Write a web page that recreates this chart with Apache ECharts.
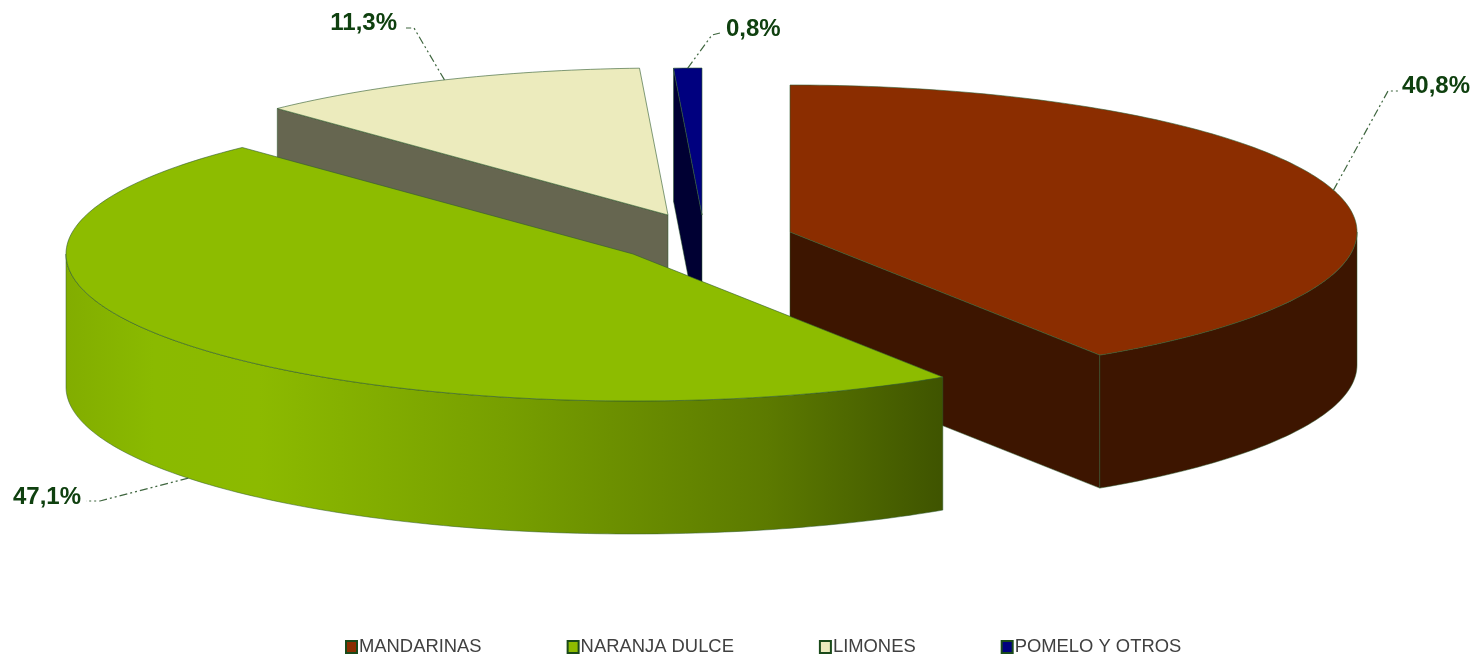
<!DOCTYPE html>
<html>
<head>
<meta charset="utf-8">
<title>Citricos</title>
<style>
  html, body { margin: 0; padding: 0; background: #fff; }
  #chart { width: 1482px; height: 656px; }
</style>
<script src="https://cdn.jsdelivr.net/npm/echarts@6/dist/echarts.min.js"></script>
</head>
<body>
<div id="chart"></div>
<script>
const categories = ["MANDARINAS", "NARANJA DULCE", "LIMONES", "POMELO Y OTROS"];
const shares = [40.8, 47.1, 11.3, 0.8];

const topColors = ["#8b2d00", "#8dbc00", "#ecebbd", "#00007f"];
const wallColors = ["#3d1500", "#5f7f00", "#666650", "#000033"];
const edgeColor = "#2f5a2f";
const labelColor = "#0f400f";
const leaderColor = "#3f663f";

// pie geometry, in pixels
const radiusX = 567;
const radiusY = 147;
const depth = 133;
const sliceCenters = [[790, 232], [633, 254], [668, 215], [702, 215]];
const sliceOrder = [1, 4, 2, 3];

// leader elbow + end, then label anchor
const leaderPoints = [
  [[1388, 91], [1398, 91]],
  [[100, 501], [86, 501]],
  [[414, 28], [406, 28]],
  [[712, 35], [720, 33]]
];
const labelAnchors = [
  [1402, 86, "left"],
  [81, 497, "right"],
  [397, 23, "right"],
  [726, 29, "left"]
];

const total = shares.reduce((a, b) => a + b, 0);

function rim(center, deg, drop) {
  const a = (deg * Math.PI) / 180;
  return [
    center[0] + radiusX * Math.sin(a),
    center[1] - radiusY * Math.cos(a) + (drop || 0)
  ];
}

function arcPoints(center, from, to, drop) {
  const pts = [];
  const steps = Math.max(2, Math.ceil(Math.abs(to - from)));
  for (let i = 0; i <= steps; i++) {
    pts.push(rim(center, from + ((to - from) * i) / steps, drop));
  }
  return pts;
}

function wallShape(fill, points) {
  return {
    type: "polygon",
    shape: { points },
    style: { fill, stroke: edgeColor, lineWidth: 0.5 }
  };
}

function greenGradient() {
  return new echarts.graphic.LinearGradient(0, 0, 1, 0, [
    { offset: 0, color: "#82ad00" },
    { offset: 0.1, color: "#8aba00" },
    { offset: 0.22, color: "#8cba00" },
    { offset: 0.5, color: "#779f00" },
    { offset: 0.8, color: "#5c7a00" },
    { offset: 1, color: "#3f5400" }
  ]);
}

function renderSlice(idx) {
  return function (params, api) {
    const before = shares.slice(0, idx).reduce((a, b) => a + b, 0);
    const start = (before / total) * 360;
    const end = start + (api.value(0) / total) * 360;
    const mid = (start + end) / 2;
    const c = sliceCenters[idx];
    const wall = wallColors[idx];
    const children = [];
    const bottomC = [c[0], c[1] + depth];

    // flat cut faces, only the ones turned to the viewer
    if (Math.sin((start * Math.PI) / 180) < -1e-6) {
      children.push(wallShape(wall, [c, rim(c, start), rim(c, start, depth), bottomC]));
    }
    if (Math.sin((end * Math.PI) / 180) > 1e-6) {
      children.push(wallShape(wall, [c, rim(c, end), rim(c, end, depth), bottomC]));
    }

    // round outer wall
    const from = Math.max(start, 90);
    const to = Math.min(end, 270);
    if (to > from) {
      const pts = arcPoints(c, from, to, 0).concat(arcPoints(c, to, from, depth));
      children.push(wallShape(idx === 1 ? greenGradient() : wall, pts));
    }

    // top face
    children.push({
      type: "polygon",
      shape: { points: [c].concat(arcPoints(c, start, end, 0)) },
      style: { fill: topColors[idx], stroke: edgeColor, lineWidth: 0.6 }
    });

    // leader line starts on the rim, at the middle of the slice
    const onFront = Math.cos((mid * Math.PI) / 180) < 0;
    const leaderFrom = rim(c, mid, onFront ? depth : 0);
    children.push({
      type: "polyline",
      shape: { points: [leaderFrom].concat(leaderPoints[idx]) },
      style: { fill: null, stroke: leaderColor, lineWidth: 1.2, lineDash: [8, 3, 2, 3, 2, 3] }
    });

    const anchor = labelAnchors[idx];
    children.push({
      type: "text",
      style: {
        text: api.value(0).toFixed(1).replace(".", ",") + "%",
        x: anchor[0],
        y: anchor[1],
        align: anchor[2],
        verticalAlign: "middle",
        fontFamily: "Liberation Sans",
        fontWeight: "bold",
        fontSize: 24,
        fill: labelColor
      }
    });

    return { type: "group", children };
  };
}

const chart = echarts.init(document.getElementById("chart"), null, { renderer: "canvas" });

chart.setOption({
  animation: false,
  backgroundColor: "#ffffff",
  legend: {
    left: 345,
    top: 638,
    padding: 0,
    itemWidth: 11,
    itemHeight: 12,
    itemGap: 85,
    icon: "rect",
    data: categories,
    itemStyle: { borderColor: "#1a4a1a", borderWidth: 2 },
    textStyle: {
      fontFamily: "Liberation Sans",
      fontSize: 18.4,
      color: "#404040",
      padding: [0, 0, 0, -3]
    }
  },
  series: categories.map((name, i) => ({
    type: "custom",
    name,
    coordinateSystem: "none",
    z: sliceOrder[i],
    silent: true,
    itemStyle: { color: topColors[i] },
    renderItem: renderSlice(i),
    data: [[shares[i]]]
  }))
});
</script>
</body>
</html>
